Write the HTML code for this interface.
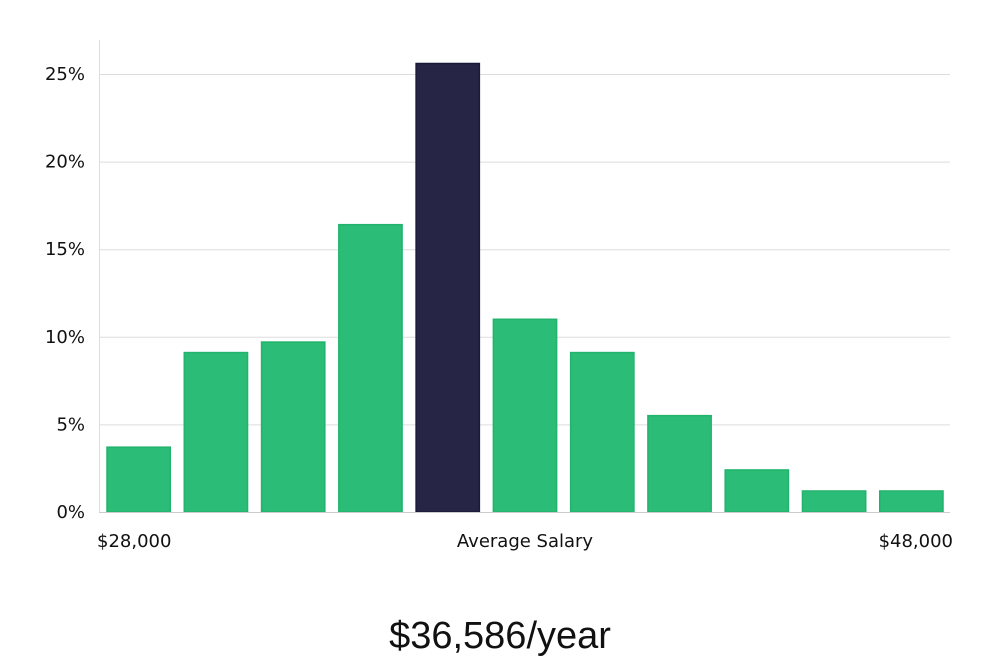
<!DOCTYPE html>
<html><head><meta charset="utf-8"><style>
html,body{margin:0;padding:0;background:#fff;}
svg{display:block;font-family:"DejaVu Sans","Liberation Sans",sans-serif;}
</style></head><body>
<svg id="chart" width="1000" height="660" viewBox="0 0 1000 660" xmlns="http://www.w3.org/2000/svg">
<g id="grid"></g>
<g id="yticks"></g>
<line x1="99.5" y1="40" x2="99.5" y2="512" stroke="#ddd" stroke-width="1"/>
<g id="bars"></g>
<line x1="99" y1="512.5" x2="950" y2="512.5" stroke="#ccc" stroke-width="1"/>
<text x="97" y="547" font-size="18" fill="#111">$28,000</text>
<text x="525" y="547" font-size="18" fill="#111" text-anchor="middle">Average Salary</text>
<text x="953" y="547" font-size="18" fill="#111" text-anchor="end">$48,000</text>
<text x="500" y="648" font-size="38" fill="#111" text-anchor="middle" font-family="'Liberation Sans',sans-serif" font-weight="300">$36,586/year</text>
</svg>
<script>
const categories = ["b1","b2","b3","b4","b5","b6","b7","b8","b9","b10","b11"];
const values = [3.7, 9.1, 9.7, 16.4, 25.6, 11.0, 9.1, 5.5, 2.4, 1.2, 1.2];
const highlightIndex = 4;
const yTicks = [0, 5, 10, 15, 20, 25];
const yTickLabels = ["0%","5%","10%","15%","20%","25%"];
const NS = "http://www.w3.org/2000/svg";
const y0 = 512, pxPerUnit = 438/25, xLeft = 100, xRight = 950;
function yScale(v){ return y0 - v*pxPerUnit; }
const band = (xRight-xLeft)/categories.length;
function xScale(i){ return xLeft + band*i + 7; }
const grid = document.getElementById('grid');
const yt = document.getElementById('yticks');
yTicks.forEach((t,i)=>{
  const y = yScale(t);
  if (t>0){
    const l = document.createElementNS(NS,'line');
    
    
    l.setAttribute('x1',100); l.setAttribute('x2',950);
    l.setAttribute('y1',y+0.5); l.setAttribute('y2',y+0.5);
    l.setAttribute('stroke','#ddd');
    grid.appendChild(l);
  }
  const tx = document.createElementNS(NS,'text');
  
  
  tx.setAttribute('x',85); tx.setAttribute('y',y+6);
  tx.setAttribute('text-anchor','end'); tx.setAttribute('font-size','18'); tx.setAttribute('fill','#111');
  tx.textContent = yTickLabels[i];
  yt.appendChild(tx);
});
const bars = document.getElementById('bars');
values.forEach((v,i)=>{
  const r = document.createElementNS(NS,'rect');
  
  
  const top = yScale(v);
  r.setAttribute('x',xScale(i)); r.setAttribute('y',top);
  r.setAttribute('width',band-14); r.setAttribute('height',y0-top);
  const hi = i===highlightIndex;
  r.setAttribute('fill', hi ? '#272546' : '#2bbd77');
  r.setAttribute('stroke', hi ? '#1c1a3a' : '#22b36c');
  r.setAttribute('stroke-width','1.5');
  bars.appendChild(r);
});
</script>
</body></html>
